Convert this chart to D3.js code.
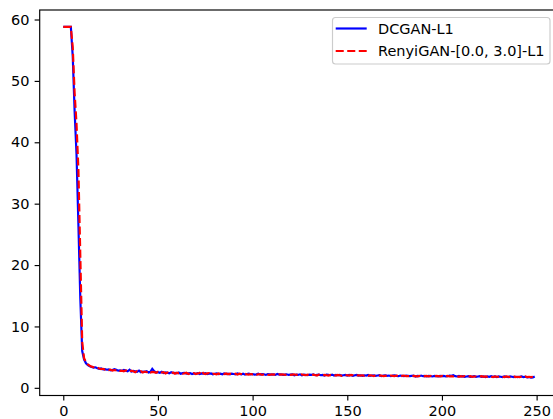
<!doctype html>
<html>
<head>
<meta http-equiv="Content-type" content="text/html; charset=utf-8"/>
<script src="https://d3js.org/d3.v7.min.js"></script>
<style>
    body { margin: 0; background: #fff; }
    svg text { font-family: "DejaVu Sans", sans-serif; fill: #000; }
</style>
</head>
<body>
<svg width="553" height="419"></svg>
<script>
    // values per epoch
    var dcgan = [
        58.8, 58.8, 58.8, 58.8, 58.8, 54.0, 45.0, 38.0, 26.5, 14.5,
        6.0, 4.6, 4.0, 3.7, 3.5, 3.4, 3.3, 3.35, 3.2, 3.1,
        3.15, 3.0, 3.05, 2.95, 3.0, 2.85, 2.9, 3.05, 2.95, 2.8,
        2.85, 2.75, 2.9, 2.8, 2.7, 2.95, 2.65, 2.75, 2.7, 2.6,
        2.8, 2.55, 2.65, 2.6, 2.7, 2.5, 2.6, 3.1, 2.7, 2.5,
        2.55, 2.45, 2.6, 2.4, 2.5, 2.45, 2.35, 2.55, 2.4, 2.45,
        2.35, 2.5, 2.3, 2.4, 2.45, 2.3, 2.35, 2.4, 2.25, 2.35,
        2.3, 2.4, 2.25, 2.35, 2.3, 2.4, 2.25, 2.3, 2.35, 2.2,
        2.3, 2.35, 2.25, 2.3, 2.2, 2.35, 2.25, 2.3, 2.2, 2.3,
        2.25, 2.2, 2.35, 2.25, 2.2, 2.3, 2.15, 2.25, 2.3, 2.2,
        2.25, 2.15, 2.2, 2.3, 2.15, 2.25, 2.2, 2.1, 2.25, 2.2,
        2.15, 2.2, 2.1, 2.25, 2.15, 2.2, 2.1, 2.15, 2.2, 2.1,
        2.15, 2.2, 2.05, 2.15, 2.1, 2.2, 2.05, 2.15, 2.1, 2.05,
        2.15, 2.1, 2.2, 2.05, 2.1, 2.15, 2.05, 2.1, 2.0, 2.15,
        2.1, 2.05, 2.15, 2.0, 2.1, 2.05, 2.1, 2.0, 2.05, 2.1,
        2.0, 2.1, 2.05, 1.95, 2.05, 2.1, 2.0, 2.05, 1.95, 2.05,
        2.0, 2.1, 1.95, 2.0, 2.05, 1.95, 2.0, 2.05, 1.9, 2.0,
        2.05, 1.95, 2.0, 1.9, 2.0, 2.05, 1.95, 1.9, 2.0, 1.95,
        1.9, 2.0, 1.95, 1.9, 1.95, 2.0, 1.85, 1.95, 1.9, 2.0,
        1.9, 1.95, 1.85, 1.95, 1.9, 1.85, 1.95, 1.9, 1.85, 1.95,
        1.9, 1.95, 1.85, 1.9, 2.0, 1.95, 2.05, 1.9, 1.85, 1.95,
        1.85, 1.9, 1.8, 1.85, 1.9, 1.8, 1.85, 1.9, 1.8, 1.85,
        1.9, 1.8, 1.85, 1.75, 1.85, 1.8, 1.9, 1.8, 1.85, 1.75,
        1.85, 1.8, 1.75, 1.85, 1.8, 1.75, 1.85, 1.8, 1.75, 1.8,
        1.75, 1.8, 1.85, 1.75, 1.8, 1.7, 1.75, 1.65, 1.7, 1.85
    ];

    var renyi = [
        58.8, 58.8, 58.8, 58.8, 58.8, 55.5, 48.0, 43.0, 35.5, 21.5,
        7.5, 4.8, 4.2, 3.8, 3.6, 3.45, 3.35, 3.25, 3.3, 3.15,
        3.05, 3.1, 2.95, 3.0, 2.9, 2.95, 2.8, 2.9, 2.85, 2.95,
        2.75, 2.8, 2.7, 2.85, 2.75, 2.6, 2.8, 2.7, 2.55, 2.75,
        2.6, 2.7, 2.5, 2.65, 2.55, 2.75, 2.5, 2.6, 2.55, 2.45,
        2.6, 2.4, 2.5, 2.55, 2.35, 2.5, 2.4, 2.35, 2.5, 2.3,
        2.45, 2.35, 2.4, 2.3, 2.35, 2.45, 2.25, 2.35, 2.3, 2.4,
        2.25, 2.35, 2.4, 2.8, 2.35, 2.25, 2.35, 2.4, 2.2, 2.3,
        2.25, 2.2, 2.35, 2.2, 2.3, 2.25, 2.35, 2.2, 2.3, 2.25,
        2.2, 2.3, 2.15, 2.3, 2.25, 2.15, 2.3, 2.2, 2.15, 2.25,
        2.2, 2.25, 2.15, 2.2, 2.25, 2.1, 2.2, 2.25, 2.15, 2.1,
        2.2, 2.15, 2.2, 2.1, 2.2, 2.15, 2.2, 2.1, 2.15, 2.2,
        2.1, 2.15, 2.2, 2.1, 2.15, 2.05, 2.2, 2.1, 2.05, 2.15,
        2.1, 2.05, 2.15, 2.1, 2.0, 2.15, 2.1, 2.05, 2.1, 2.05,
        2.0, 2.1, 2.05, 2.1, 2.0, 2.1, 2.05, 1.95, 2.1, 2.05,
        2.05, 2.0, 2.1, 2.05, 1.95, 2.0, 2.05, 2.0, 2.05, 1.95,
        2.05, 1.95, 2.05, 2.0, 1.9, 2.05, 1.95, 2.0, 2.0, 1.9,
        1.95, 2.0, 1.9, 2.0, 1.95, 1.9, 2.0, 1.95, 1.85, 1.95,
        2.0, 1.9, 1.9, 1.95, 1.85, 1.95, 1.9, 1.85, 1.95, 1.9,
        1.85, 1.9, 1.95, 1.85, 1.95, 1.9, 1.85, 1.95, 1.9, 1.85,
        1.95, 1.85, 1.9, 1.95, 1.85, 1.9, 1.85, 1.95, 1.9, 1.8,
        1.9, 1.85, 1.9, 1.8, 1.85, 1.9, 1.8, 1.85, 1.85, 1.8,
        1.85, 1.9, 1.8, 1.85, 1.8, 1.85, 1.8, 1.75, 1.85, 1.8,
        1.8, 1.85, 1.8, 1.75, 1.85, 1.8, 1.75, 1.8, 1.85, 1.75,
        1.8, 1.75, 1.8, 1.75, 1.85, 1.75, 1.8, 1.75, 1.8
    ];

    var xTicks = [0, 50, 100, 150, 200, 250];
    var yTicks = [0, 10, 20, 30, 40, 50, 60];
    var seriesNames = ["DCGAN-L1", "RenyiGAN-[0.0, 3.0]-L1"];

    var pt = 1.45;  // px per point
    var plotLeft = 39.7, plotRight = 558.3, plotTop = 10, plotBottom = 395.5;

    var svg = d3.select("svg");

    var x = d3.scaleLinear().domain([-12.45, 261.45]).range([plotLeft, plotRight]);
    var y = d3.scaleLinear().domain([-1.25, 61.55]).range([plotBottom, plotTop]);

    var line = d3.line()
        .x(function(d, i) { return x(i); })
        .y(function(d) { return y(d); });

    var dash = (3.7 * 1.5 * pt) + "," + (1.6 * 1.5 * pt);

    svg.append("path")
        .datum(dcgan)
        .attr("d", line)
        .attr("fill", "none")
        .attr("stroke", "#0000ff")
        .attr("stroke-width", 1.5 * pt);

    svg.append("path")
        .datum(renyi)
        .attr("d", line)
        .attr("fill", "none")
        .attr("stroke", "#ff0000")
        .attr("stroke-width", 1.5 * pt)
        .attr("stroke-dasharray", dash);

    // spines
    svg.append("rect")
        .attr("x", plotLeft).attr("y", plotTop)
        .attr("width", plotRight - plotLeft).attr("height", plotBottom - plotTop)
        .attr("fill", "none")
        .attr("stroke", "#000")
        .attr("stroke-width", 0.8 * pt);

    var xAxis = svg.append("g")
        .attr("transform", "translate(0," + plotBottom + ")")
        .call(d3.axisBottom(x).tickValues(xTicks).tickSize(3.5 * pt).tickPadding(3.5 * pt));

    var yAxis = svg.append("g")
        .attr("transform", "translate(" + plotLeft + ",0)")
        .call(d3.axisLeft(y).tickValues(yTicks).tickSize(3.5 * pt).tickPadding(3.5 * pt));

    [xAxis, yAxis].forEach(function(g) {
        g.select(".domain").remove();
        g.selectAll(".tick line").attr("stroke", "#000").attr("stroke-width", 0.8 * pt);
        g.selectAll(".tick text")
            .attr("font-size", 14.5)
            .attr("fill", "#000")
            .style("font-family", "'DejaVu Sans', sans-serif");
    });
    xAxis.selectAll(".tick text").attr("dy", "0.73em");

    // legend
    var legend = svg.append("g");
    legend.append("rect")
        .attr("x", 332.5).attr("y", 17.5)
        .attr("width", 217.5).attr("height", 46.5)
        .attr("rx", 3).attr("ry", 3)
        .attr("fill", "#fff")
        .attr("fill-opacity", 0.8)
        .attr("stroke", "#cccccc")
        .attr("stroke-width", 0.8 * pt);

    var styles = [
        { color: "#0000ff", dash: null },
        { color: "#ff0000", dash: dash }
    ];

    seriesNames.forEach(function(name, i) {
        var cy = 28.5 + i * 22.5;
        legend.append("line")
            .attr("x1", 335.7).attr("x2", 366.7)
            .attr("y1", cy).attr("y2", cy)
            .attr("stroke", styles[i].color)
            .attr("stroke-width", 1.5 * pt)
            .attr("stroke-dasharray", styles[i].dash);
        legend.append("text")
            .attr("x", 378)
            .attr("y", cy)
            .attr("dy", "0.36em")
            .attr("font-size", 14.5)
            .text(name);
    });
</script>
</body>
</html>
